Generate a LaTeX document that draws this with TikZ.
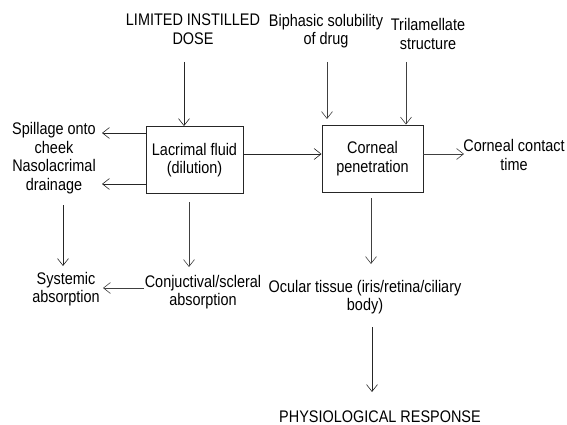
\documentclass[tikz,border=0pt]{standalone}
\usepackage{fontspec}
\setmainfont[FakeStretch=0.86]{Liberation Sans}
\usetikzlibrary{arrows.meta}
\begin{document}
\begin{tikzpicture}[x=1pt,y=-1pt,
  txt/.style={align=center,inner sep=0pt,font=\fontsize{16.8}{18.6}\selectfont},
  boxn/.style={draw=black!85,line width=0.9pt,minimum width=97pt,minimum height=67pt,align=center,inner sep=0pt,font=\fontsize{16.8}{18.6}\selectfont},
  arr/.style={draw=black!75,line width=0.8pt,-{Straight Barb[length=7pt,width=11pt,line width=0.6pt]}},
  darr/.style={arr,draw=black!85,line width=1pt}]
\useasboundingbox (0,0) rectangle (567,425);
\node[txt] (dose) at (193,29) {LIMITED INSTILLED\\DOSE};
\node[boxn] (lac) at (194.5,160) {Lacrimal fluid\\(dilution)};
\node[boxn,minimum width=101pt] (cor) at (372.5,158.5) {Corneal\\penetration};
\node[txt] (bip) at (326,31) {Biphasic solubility\\of drug};
\node[txt] (tri) at (428,34) {Trilamellate\\structure};
\node[txt] (spill) at (54,158) {Spillage onto\\cheek\\Nasolacrimal\\drainage};
\node[txt] (cct) at (514,155) {Corneal contact\\time};
\node[txt] (sys) at (66,289) {Systemic\\absorption};
\node[txt] (conj) at (203,292) {Conjuctival/scleral\\absorption};
\node[txt] (ocu) at (365,297) {Ocular tissue (iris/retina/ciliary\\body)};
\node[txt] (phys) at (380,417) {PHYSIOLOGICAL RESPONSE};

\coordinate (dose1) at (184,62);
\draw[darr] (dose1) -- (dose1 |- lac.north);
\coordinate (bip1) at (327,62);
\coordinate (bip2) at (327,119);
\draw[arr] (bip1) -- (bip2);
\coordinate (tri1) at (406,62);
\draw[arr] (tri1) -- (tri1 |- cor.north);
\coordinate (lacA) at (146,133);
\coordinate (lacB) at (146,184);
\coordinate (spA) at (102,133);
\coordinate (spB) at (102,184);
\draw[darr] (lacA) -- (spA);
\draw[darr] (lacB) -- (spB);
\coordinate (lacR) at (243,154);
\draw[darr] (lacR) -- (lacR -| cor.west);
\coordinate (corR) at (423,154);
\coordinate (cctL) at (464,154);
\draw[arr] (corR) -- (cctL);
\coordinate (sp1) at (63,205);
\coordinate (sp2) at (63,266);
\draw[darr] (sp1) -- (sp2);
\coordinate (lc1) at (189,202);
\coordinate (lc2) at (189,267);
\draw[arr] (lc1) -- (lc2);
\coordinate (cj1) at (144,288);
\coordinate (cj2) at (103,288);
\draw[arr] (cj1) -- (cj2);
\coordinate (co1) at (371,198);
\coordinate (co2) at (371,264);
\draw[arr] (co1) -- (co2);
\coordinate (oc1) at (372,327);
\coordinate (oc2) at (372,392);
\draw[darr] (oc1) -- (oc2);
\end{tikzpicture}
\end{document}
